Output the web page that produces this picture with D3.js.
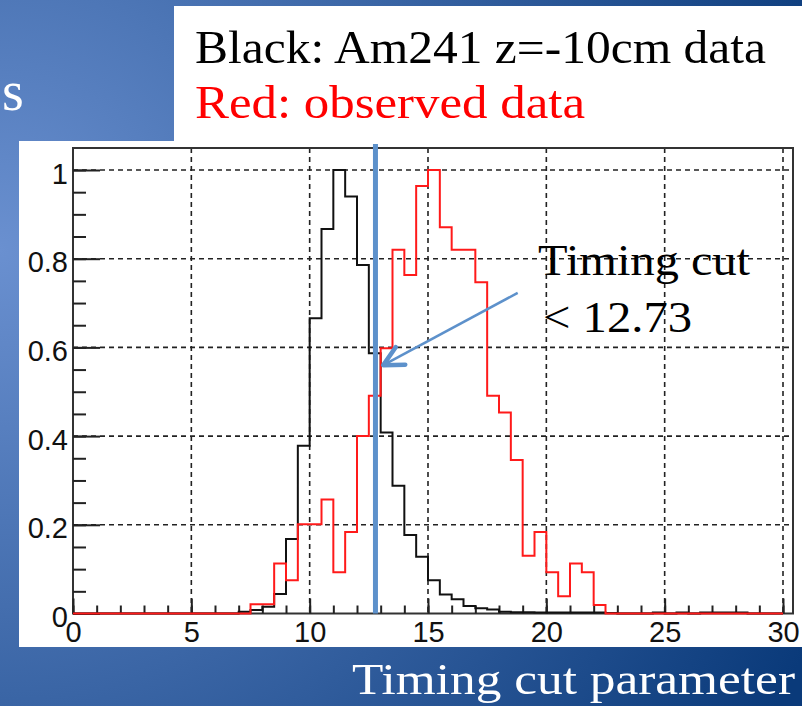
<!DOCTYPE html>
<html>
<head>
<meta charset="utf-8">
<script src="https://cdn.jsdelivr.net/npm/d3@7"></script>
<style>
  html, body { margin: 0; padding: 0; background: #fff; }
  svg { display: block; }
</style>
</head>
<body>
<svg id="chart" width="802" height="706"></svg>
<script>
// histogram bins, 0.5 wide, from 0 to 30
const binStart = 0
const binWidth = 0.5

// Am241 z=-10cm (black), normalised to peak
const blackCounts = [
  0, 0, 0, 0, 0, 0, 0, 0, 0, 0,
  0, 0, 0, 0, 0.004, 0.008, 0.015, 0.044, 0.168, 0.378,
  0.666, 0.867, 1.0, 0.94, 0.786, 0.587, 0.408, 0.288, 0.177, 0.128,
  0.075, 0.043, 0.032, 0.017, 0.012, 0.009, 0.004, 0.003, 0.003, 0.002,
  0.002, 0.002, 0.002, 0.002, 0.002, 0.001, 0, 0, 0, 0.002,
  0, 0.002, 0, 0.002, 0.002, 0.002, 0.002, 0, 0, 0
]

// observed data (red)
const redCounts = [
  0, 0, 0, 0, 0, 0, 0, 0, 0, 0,
  0, 0, 0, 0, 0, 0.021, 0.021, 0.113, 0.075, 0.201,
  0.201, 0.257, 0.093, 0.184, 0.40, 0.491, 0.598, 0.82, 0.763, 0.964,
  1.0, 0.871, 0.82, 0.82, 0.747, 0.491, 0.453, 0.346, 0.13, 0.184,
  0.093, 0.039, 0.113, 0.093, 0.019, 0, 0, 0, 0, 0,
  0, 0, 0, 0, 0, 0, 0, 0, 0, 0
]

const xMajor = [0, 5, 10, 15, 20, 25, 30]
const xMinor = d3.range(0, 31, 1)
const yMajor = [0, 0.2, 0.4, 0.6, 0.8, 1]
const yMinor = d3.range(0, 1.01, 0.05)
const yLabels = ["0", "0.2", "0.4", "0.6", "0.8", "1"]

const cutValue = 12.78
const arrowFrom = [18.79, 0.723]
const arrowTo = [13.11, 0.56]
const cutText = ["Timing cut", "< 12.73"]
const cutTextPos = [[19.65, 0.763], [19.86, 0.635]]
const legendText = ["Black: Am241 z=-10cm data", "Red: observed data"]
const xTitle = "Timing cut parameter"

const svg = d3.select("#chart")
const W = 802, H = 706

// slide background
const defs = svg.append("defs")
const grad = defs.append("radialGradient")
  .attr("id", "bg")
  .attr("gradientUnits", "userSpaceOnUse")
  .attr("cx", 0).attr("cy", 250).attr("r", 900)
grad.append("stop").attr("offset", "0%").attr("stop-color", "#6a90d0")
grad.append("stop").attr("offset", "100%").attr("stop-color", "#0a3a7a")

svg.append("rect").attr("width", W).attr("height", H).attr("fill", "url(#bg)")

// white boxes (legend text box + plot picture)
svg.append("rect").attr("x", 174).attr("y", 6).attr("width", W - 174).attr("height", 136).attr("fill", "#fff")
svg.append("rect").attr("x", 19).attr("y", 141).attr("width", W - 19).attr("height", 506).attr("fill", "#fff")

const serif = "'Liberation Serif', 'Times New Roman', serif"
const sans = "'Liberation Sans', Arial, Helvetica, sans-serif"

svg.append("text")
  .attr("x", 2).attr("y", 110)
  .attr("font-family", serif).attr("font-size", 56)
  .attr("fill", "#fff")
  .text("s")

svg.append("text")
  .attr("x", 195).attr("y", 63)
  .attr("font-family", serif).attr("font-size", 47)
  .attr("textLength", 571).attr("lengthAdjust", "spacingAndGlyphs")
  .attr("fill", "#000")
  .text(legendText[0])

svg.append("text")
  .attr("x", 195).attr("y", 118)
  .attr("font-family", serif).attr("font-size", 47)
  .attr("textLength", 390).attr("lengthAdjust", "spacingAndGlyphs")
  .attr("fill", "#ff0000")
  .text(legendText[1])

svg.append("text")
  .attr("x", 352).attr("y", 694)
  .attr("font-family", serif).attr("font-size", 45)
  .attr("textLength", 443).attr("lengthAdjust", "spacingAndGlyphs")
  .attr("fill", "#fff")
  .text(xTitle)

// plot frame
const plotLeft = 73, plotRight = 793, plotTop = 148, plotBottom = 613.5
const x = d3.scaleLinear().domain([0, 30 * (plotRight - plotLeft) / 710]).range([plotLeft, plotRight])
const y = d3.scaleLinear().domain([0, (plotBottom - plotTop) / 443.5]).range([plotBottom, plotTop])

const plot = svg.append("g")

// grid
plot.append("g").selectAll("line")
  .data(xMajor.filter(d => d > 0))
  .enter().append("line")
  .attr("x1", d => x(d)).attr("x2", d => x(d))
  .attr("y1", plotTop).attr("y2", plotBottom)
  .attr("stroke", "#222").attr("stroke-width", 1.6)
  .attr("stroke-dasharray", "5,4")

plot.append("g").selectAll("line")
  .data(yMajor.filter(d => d > 0))
  .enter().append("line")
  .attr("x1", plotLeft).attr("x2", plotRight)
  .attr("y1", d => y(d)).attr("y2", d => y(d))
  .attr("stroke", "#222").attr("stroke-width", 1.6)
  .attr("stroke-dasharray", "5,4")

plot.append("rect")
  .attr("x", plotLeft).attr("y", plotTop)
  .attr("width", plotRight - plotLeft).attr("height", plotBottom - plotTop)
  .attr("fill", "none").attr("stroke", "#333").attr("stroke-width", 2)

// axes (ROOT style ticks pointing inwards)
const axisStyle = g => {
  g.select(".domain").remove()
  g.selectAll(".tick line").attr("stroke", "#222").attr("stroke-width", 2)
  g.selectAll("text").attr("font-family", sans).attr("font-size", 29).attr("fill", "#111")
}

plot.append("g")
  .attr("transform", "translate(0," + plotBottom + ")")
  .call(d3.axisBottom(x).tickValues(xMinor).tickSize(-8).tickFormat(""))
  .call(axisStyle)

plot.append("g")
  .attr("transform", "translate(0," + plotBottom + ")")
  .call(d3.axisBottom(x).tickValues(xMajor).tickSize(-15).tickPadding(8).tickFormat(d3.format("d")))
  .call(axisStyle)

plot.append("g")
  .attr("transform", "translate(" + plotLeft + ",0)")
  .call(d3.axisLeft(y).tickValues(yMinor).tickSize(-13).tickFormat(""))
  .call(axisStyle)

plot.append("g")
  .attr("transform", "translate(" + plotLeft + ",0)")
  .call(d3.axisLeft(y).tickValues(yMajor).tickSize(-27).tickPadding(5)
    .tickFormat((d, i) => yLabels[i]))
  .call(axisStyle)
  .call(g => g.selectAll("text").attr("dy", "0.45em"))

// histograms as step outlines
const histPath = counts => {
  const p = d3.path()
  p.moveTo(x(binStart), y(counts[0]))
  counts.forEach((v, i) => {
    const x0 = binStart + i * binWidth
    p.lineTo(x(x0), y(v))
    p.lineTo(x(x0 + binWidth), y(v))
  })
  return p.toString()
}

plot.append("path")
  .attr("d", histPath(blackCounts))
  .attr("fill", "none").attr("stroke", "#111").attr("stroke-width", 2)

plot.append("path")
  .attr("d", histPath(redCounts))
  .attr("fill", "none").attr("stroke", "#ff1a1a").attr("stroke-width", 2)

// cut line and annotation
const blue = "#5d91cb"
plot.append("line")
  .attr("x1", x(cutValue)).attr("x2", x(cutValue))
  .attr("y1", plotTop - 4).attr("y2", y(0))
  .attr("stroke", blue).attr("stroke-width", 5)

const ax0 = x(arrowFrom[0]), ay0 = y(arrowFrom[1])
const ax1 = x(arrowTo[0]), ay1 = y(arrowTo[1])
plot.append("line")
  .attr("x1", ax0).attr("y1", ay0).attr("x2", ax1).attr("y2", ay1)
  .attr("stroke", blue).attr("stroke-width", 2.5)

const ang = Math.atan2(ay0 - ay1, ax0 - ax1)
const headLen = 22, spread = 27 * Math.PI / 180
const head = d3.path()
head.moveTo(ax1 + headLen * Math.cos(ang - spread), ay1 + headLen * Math.sin(ang - spread))
head.lineTo(ax1, ay1)
head.lineTo(ax1 + headLen * Math.cos(ang + spread), ay1 + headLen * Math.sin(ang + spread))
plot.append("path")
  .attr("d", head.toString())
  .attr("fill", "none").attr("stroke", blue).attr("stroke-width", 4.5)
  .attr("stroke-linecap", "round").attr("stroke-linejoin", "round")

const cutLens = [212, 149]
plot.selectAll(".cutText")
  .data(cutText)
  .enter().append("text")
  .attr("class", "cutText")
  .attr("x", (d, i) => x(cutTextPos[i][0]))
  .attr("y", (d, i) => y(cutTextPos[i][1]))
  .attr("font-family", serif).attr("font-size", 45)
  .attr("textLength", (d, i) => cutLens[i]).attr("lengthAdjust", "spacingAndGlyphs")
  .attr("fill", "#000")
  .text(d => d)
</script>
</body>
</html>
